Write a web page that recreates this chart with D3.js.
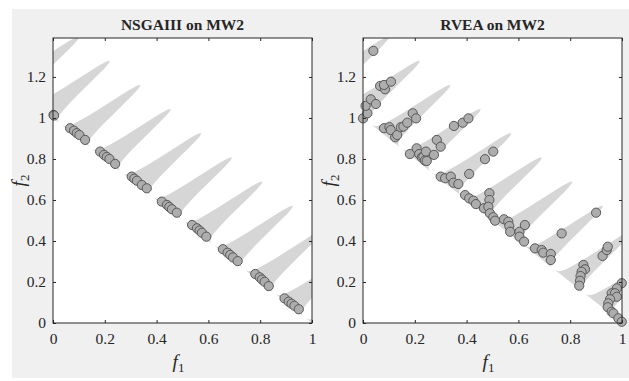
<!DOCTYPE html>
<html>
<head>
<meta charset="utf-8">
<script src="https://cdn.jsdelivr.net/npm/d3@7"></script>
<style>
  body { margin: 0; background: #fff; }
  text { font-family: "Liberation Serif", "DejaVu Serif", serif; fill: #262626; }
</style>
</head>
<body>
<div id="chart"></div>
<script>
// ticks
const xTicks = [0, 0.2, 0.4, 0.6, 0.8, 1];
const yTicks = [0, 0.2, 0.4, 0.6, 0.8, 1, 1.2];

// feasible region of MW2: f1 of each wedge's base on the front
const wedgeBase = [-0.148, -0.030, 0.088, 0.205, 0.323, 0.441, 0.559, 0.677, 0.795, 0.912, 1.03];
// wedge outline: [offset along front, rise towards tip], tip first
const wedgeProfile = [[0, 0.25], [0.0045, 0.241], [0.009, 0.217], [0.013, 0.181], [0.0175, 0.14],
  [0.022, 0.099], [0.0265, 0.065], [0.031, 0.038], [0.035, 0.02], [0.04, 0.009], [0.044, 0.0035], [0.052, 0]];

// NSGAIII population
const nsgaPoints = [
  [0.002, 1.015], [0.004, 1.012],
  [0.066, 0.95], [0.081, 0.938], [0.092, 0.926], [0.102, 0.917], [0.124, 0.893],
  [0.182, 0.836], [0.197, 0.82], [0.208, 0.81], [0.218, 0.80], [0.240, 0.776],
  [0.304, 0.714], [0.314, 0.704], [0.324, 0.694], [0.343, 0.673], [0.362, 0.657],
  [0.42, 0.592], [0.44, 0.576], [0.449, 0.566], [0.459, 0.555], [0.478, 0.538],
  [0.537, 0.478], [0.556, 0.462], [0.566, 0.451], [0.575, 0.44], [0.592, 0.421],
  [0.656, 0.36], [0.674, 0.343], [0.684, 0.332], [0.695, 0.32], [0.713, 0.302],
  [0.781, 0.239], [0.798, 0.223], [0.807, 0.212], [0.817, 0.201], [0.833, 0.18],
  [0.894, 0.12], [0.910, 0.104], [0.921, 0.094], [0.932, 0.084], [0.949, 0.067]
];

// RVEA population
const rveaPoints = [
  [0.04, 1.327],
  [0.0, 0.998], [0.017, 1.023], [0.01, 1.059], [0.03, 1.091], [0.05, 1.068],
  [0.066, 1.156], [0.085, 1.14], [0.081, 1.161], [0.108, 1.177],
  [0.081, 0.95], [0.102, 0.955], [0.107, 0.941], [0.124, 0.906], [0.132, 0.917],
  [0.146, 0.955], [0.156, 0.958], [0.171, 0.977], [0.192, 1.023], [0.205, 0.998],
  [0.181, 0.824], [0.207, 0.852], [0.217, 0.824], [0.227, 0.808], [0.233, 0.811], [0.239, 0.792],
  [0.243, 0.836], [0.246, 0.79], [0.274, 0.82], [0.285, 0.893], [0.30, 0.86],
  [0.351, 0.961], [0.385, 0.977], [0.407, 0.998],
  [0.30, 0.714], [0.317, 0.706], [0.339, 0.714], [0.349, 0.684], [0.368, 0.678],
  [0.41, 0.727], [0.471, 0.799], [0.503, 0.836],
  [0.394, 0.624], [0.41, 0.608], [0.426, 0.597], [0.436, 0.58], [0.467, 0.56],
  [0.488, 0.633], [0.488, 0.60], [0.484, 0.567], [0.49, 0.535], [0.503, 0.516], [0.51, 0.499],
  [0.544, 0.506], [0.561, 0.494], [0.565, 0.473], [0.568, 0.445],
  [0.604, 0.445], [0.625, 0.478], [0.604, 0.421], [0.622, 0.397],
  [0.664, 0.364], [0.69, 0.356], [0.696, 0.343], [0.725, 0.337], [0.725, 0.307],
  [0.767, 0.437], [0.90, 0.538],
  [0.851, 0.283], [0.857, 0.262], [0.844, 0.25], [0.84, 0.229], [0.838, 0.206], [0.835, 0.182],
  [0.925, 0.327], [0.941, 0.356], [0.945, 0.372],
  [0.999, 0.194], [0.98, 0.169], [0.96, 0.145], [0.973, 0.145], [0.98, 0.128], [0.954, 0.116],
  [0.947, 0.096], [0.945, 0.077], [0.96, 0.055], [0.967, 0.047], [0.986, 0.023], [0.999, 0.006]
];

const width = 629, height = 381;
const svg = d3.select('#chart').append('svg')
  .attr('width', width)
  .attr('height', height);

svg.append('rect')
  .attr('x', 12).attr('y', 9)
  .attr('width', width - 12).attr('height', 369)
  .attr('fill', '#f0f0f0');

function wedgePolygon(b) {
  const left = wedgeProfile.map(([s, r]) => [b - s + r, 1 - b + s + r]).reverse();
  const right = wedgeProfile.map(([s, r]) => [b + s + r, 1 - b - s + r]);
  return left.concat(right);
}

function drawPanel(left, title, points, id) {
  const top = 38, bottom = 323, w = 259;

  const x = d3.scaleLinear().domain([0, 1]).range([left, left + w]);
  const y = d3.scaleLinear().domain([0, 1.39]).range([bottom, top]);

  const g = svg.append('g');

  g.append('rect')
    .attr('x', left).attr('y', top)
    .attr('width', w).attr('height', bottom - top)
    .attr('fill', '#fff');

  g.append('clipPath').attr('id', id)
    .append('rect')
    .attr('x', left).attr('y', top)
    .attr('width', w).attr('height', bottom - top);

  const line = d3.line().x(d => x(d[0])).y(d => y(d[1]));

  const plot = g.append('g').attr('clip-path', `url(#${id})`);

  plot.selectAll('.wedge')
    .data(wedgeBase)
    .enter().append('path')
    .attr('class', 'wedge')
    .attr('d', d => line(wedgePolygon(d)) + 'Z')
    .attr('fill', '#d6d6d6');

  g.selectAll('.dot')
    .data(points)
    .enter().append('circle')
    .attr('class', 'dot')
    .attr('cx', d => x(d[0]))
    .attr('cy', d => y(d[1]))
    .attr('r', 4.6)
    .attr('fill', '#adadad')
    .attr('stroke', '#585858')
    .attr('stroke-width', 1);

  // axes with inward ticks on all four sides
  g.append('g')
    .attr('transform', `translate(0,${bottom})`)
    .call(d3.axisBottom(x).tickValues(xTicks).tickSizeInner(-3).tickSizeOuter(0).tickPadding(10).tickFormat(d3.format('')))
    .call(a => a.selectAll('text').attr('font-size', 15.5).attr('fill', '#262626'));
  g.append('g')
    .attr('transform', `translate(${left},0)`)
    .call(d3.axisLeft(y).tickValues(yTicks).tickSizeInner(-3).tickSizeOuter(0).tickPadding(7).tickFormat(d3.format('')))
    .call(a => a.selectAll('text').attr('font-size', 15.5).attr('fill', '#262626'));
  g.append('g')
    .attr('transform', `translate(0,${top})`)
    .call(d3.axisTop(x).tickValues(xTicks).tickSizeInner(-3).tickSizeOuter(0).tickFormat(''));
  g.append('g')
    .attr('transform', `translate(${left + w},0)`)
    .call(d3.axisRight(y).tickValues(yTicks).tickSizeInner(-3).tickSizeOuter(0).tickFormat(''));

  g.selectAll('.domain').remove();
  g.selectAll('.tick line').attr('stroke', '#262626');

  g.append('rect')
    .attr('x', left).attr('y', top)
    .attr('width', w).attr('height', bottom - top)
    .attr('fill', 'none')
    .attr('stroke', '#262626')
    .attr('stroke-width', 1);

  g.append('text')
    .attr('x', left + w / 2)
    .attr('y', 30)
    .attr('text-anchor', 'middle')
    .attr('font-size', 15.5)
    .attr('font-weight', 'bold')
    .text(title);

  const xl = g.append('text')
    .attr('x', left + w / 2 - 4)
    .attr('y', 368)
    .attr('text-anchor', 'middle')
    .attr('font-size', 19);
  xl.append('tspan').attr('font-style', 'italic').text('f');
  xl.append('tspan').attr('font-size', 13).attr('dy', 4).text('1');

  const yl = g.append('text')
    .attr('transform', `translate(${left - 28},${(top + bottom) / 2}) rotate(-90)`)
    .attr('text-anchor', 'middle')
    .attr('font-size', 19);
  yl.append('tspan').attr('font-style', 'italic').text('f');
  yl.append('tspan').attr('font-size', 13).attr('dy', 4).text('2');
}

drawPanel(53, 'NSGAIII on MW2', nsgaPoints, 'clipL');
drawPanel(363, 'RVEA on MW2', rveaPoints, 'clipR');
</script>
</body>
</html>
